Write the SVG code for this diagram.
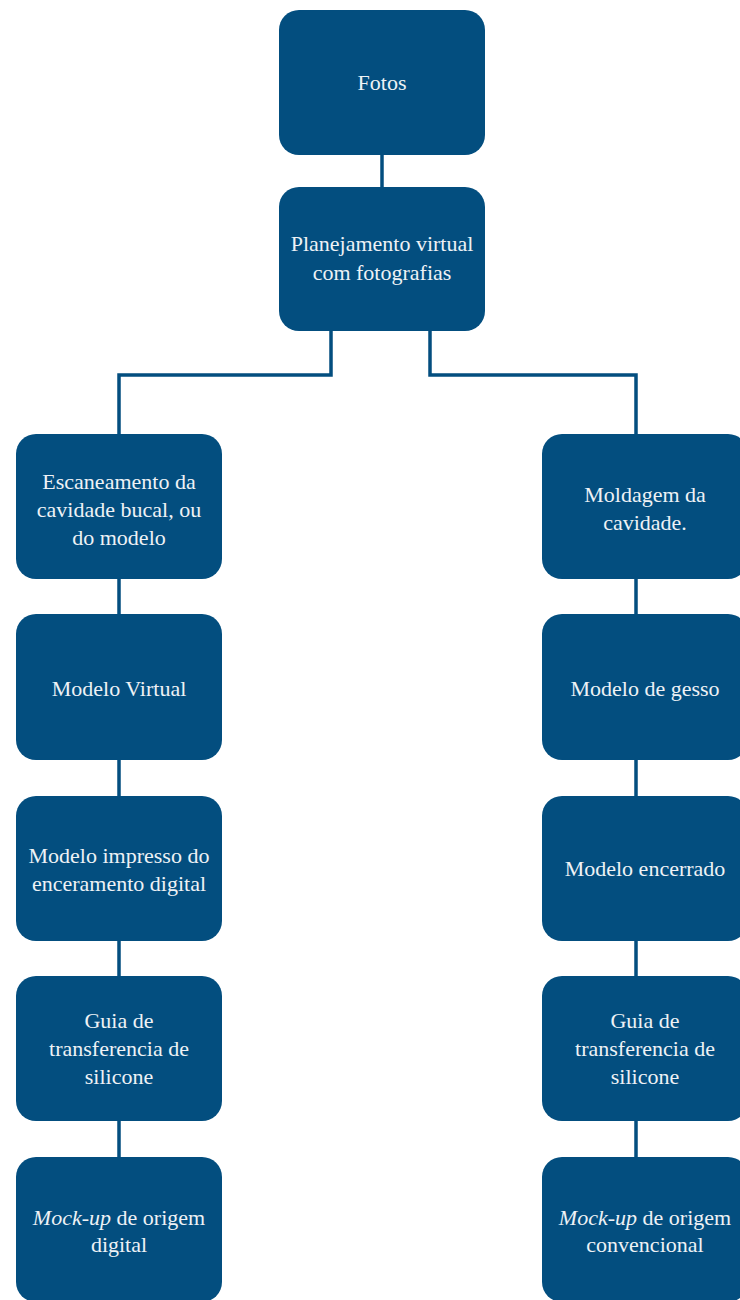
<svg xmlns="http://www.w3.org/2000/svg" width="740" height="1300" viewBox="0 0 740 1300">
<style>
.box{fill:#034e7f;}
.t{font-size:22px;fill:#eef2f6;text-anchor:middle;}
.c{fill:none;stroke:#034e7f;stroke-width:3.5;}
</style>
<rect width="740" height="1300" fill="#ffffff"/>
<g id="connectors">
<path class="c" d="M382,155V187"/>
<path class="c" d="M331,331V375H119V434"/>
<path class="c" d="M430,331V375H636V434"/>
<path class="c" d="M119,579V614M119,760V796M119,941V976M119,1121V1157"/>
<path class="c" d="M636,579V614M636,760V796M636,941V976M636,1121V1157"/>
</g>
<g id="n-fotos"><rect class="box" x="279" y="10" width="206" height="145" rx="20"/><text class="t" font-family="Liberation Serif" x="382" y="90">Fotos</text></g>
<g id="n-planejamento"><rect class="box" x="279" y="187" width="206" height="144" rx="20"/><text class="t" font-family="Liberation Serif" x="382" y="251">Planejamento virtual</text><text class="t" font-family="Liberation Serif" x="382" y="280">com fotografias</text></g>
<g id="n-escaneamento"><rect class="box" x="16" y="434" width="206" height="145" rx="20"/><text class="t" font-family="Liberation Serif" x="119" y="489">Escaneamento da</text><text class="t" font-family="Liberation Serif" x="119" y="517">cavidade bucal, ou</text><text class="t" font-family="Liberation Serif" x="119" y="545">do modelo</text></g>
<g id="n-modelo-virtual"><rect class="box" x="16" y="614" width="206" height="146" rx="20"/><text class="t" font-family="Liberation Serif" x="119" y="696">Modelo Virtual</text></g>
<g id="n-modelo-impresso"><rect class="box" x="16" y="796" width="206" height="145" rx="20"/><text class="t" font-family="Liberation Serif" x="119" y="863">Modelo impresso do</text><text class="t" font-family="Liberation Serif" x="119" y="891">enceramento digital</text></g>
<g id="n-guia-digital"><rect class="box" x="16" y="976" width="206" height="145" rx="20"/><text class="t" font-family="Liberation Serif" x="119" y="1028">Guia de</text><text class="t" font-family="Liberation Serif" x="119" y="1056">transferencia de</text><text class="t" font-family="Liberation Serif" x="119" y="1084">silicone</text></g>
<g id="n-mockup-digital"><rect class="box" x="16" y="1157" width="206" height="145" rx="20"/><text class="t" font-family="Liberation Serif" x="119" y="1225"><tspan font-style="italic">Mock-up</tspan> de origem</text><text class="t" font-family="Liberation Serif" x="119" y="1252">digital</text></g>
<g id="n-moldagem"><rect class="box" x="542" y="434" width="206" height="145" rx="20"/><text class="t" font-family="Liberation Serif" x="645" y="502">Moldagem da</text><text class="t" font-family="Liberation Serif" x="645" y="530">cavidade.</text></g>
<g id="n-modelo-gesso"><rect class="box" x="542" y="614" width="206" height="146" rx="20"/><text class="t" font-family="Liberation Serif" x="645" y="696">Modelo de gesso</text></g>
<g id="n-modelo-encerrado"><rect class="box" x="542" y="796" width="206" height="145" rx="20"/><text class="t" font-family="Liberation Serif" x="645" y="876">Modelo encerrado</text></g>
<g id="n-guia-conv"><rect class="box" x="542" y="976" width="206" height="145" rx="20"/><text class="t" font-family="Liberation Serif" x="645" y="1028">Guia de</text><text class="t" font-family="Liberation Serif" x="645" y="1056">transferencia de</text><text class="t" font-family="Liberation Serif" x="645" y="1084">silicone</text></g>
<g id="n-mockup-conv"><rect class="box" x="542" y="1157" width="206" height="145" rx="20"/><text class="t" font-family="Liberation Serif" x="645" y="1225"><tspan font-style="italic">Mock-up</tspan> de origem</text><text class="t" font-family="Liberation Serif" x="645" y="1252">convencional</text></g>
</svg>
